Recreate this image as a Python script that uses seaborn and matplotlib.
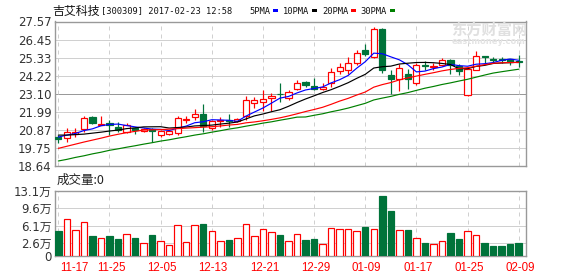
import numpy as np
import pandas as pd
import matplotlib
matplotlib.use("Agg")
import matplotlib.pyplot as plt
import seaborn as sns
from matplotlib.patches import Rectangle
from matplotlib.transforms import ScaledTranslation

# ---------------- data ----------------
tick_pos = [0, 6, 12, 18, 24, 30, 36, 42, 48, 54]
tick_labels = ["11-17", "11-25", "12-05", "12-13", "12-21", "12-29",
               "01-09", "01-17", "01-25", "02-09"]

open_ = [20.44, 20.34, 20.61, 20.90, 21.68, 21.18, 21.31, 21.06, 20.75, 21.00,
         20.81, 20.92, 20.55, 20.61, 20.71, 21.50, 21.68, 21.84, 20.99, 21.44,
         21.50, 21.45, 21.72, 22.54, 22.60, 22.87, 23.12, 22.87, 23.38, 23.83,
         23.57, 23.40, 23.75, 24.51, 24.57, 25.02, 25.80, 25.35, 27.12, 24.26,
         24.00, 24.31, 23.79, 24.88, 24.73, 24.86, 25.21, 24.80, 23.01, 24.60,
         25.41, 25.25, 25.25, 25.23, 25.10]
high = [20.55, 20.96, 21.00, 21.74, 21.72, 21.72, 21.47, 21.33, 21.27, 21.06,
        21.00, 20.96, 20.86, 20.86, 21.72, 21.72, 22.15, 22.46, 21.50, 21.68,
        21.84, 21.62, 22.95, 22.90, 23.32, 23.15, 23.80, 23.32, 23.95, 23.90,
        24.06, 23.75, 24.67, 25.02, 25.37, 25.80, 26.21, 27.26, 27.14, 24.55,
        24.95, 24.66, 25.00, 25.12, 25.00, 25.33, 25.27, 24.96, 24.70, 25.74,
        25.43, 25.39, 25.35, 25.27, 25.52]
low = [20.04, 20.14, 20.41, 20.75, 21.21, 21.16, 20.55, 20.75, 20.65, 20.59,
       20.75, 20.10, 20.41, 20.55, 20.55, 21.30, 21.47, 20.75, 20.85, 21.05,
       21.02, 21.35, 21.50, 22.25, 22.05, 22.05, 22.60, 22.70, 23.34, 23.50,
       23.34, 23.33, 23.55, 24.30, 24.30, 24.88, 25.46, 25.30, 24.40, 23.07,
       23.28, 23.42, 23.63, 24.58, 24.55, 24.80, 24.35, 24.24, 22.98, 24.55,
       24.92, 24.99, 25.00, 24.88, 24.75]
close = [20.30, 20.75, 20.75, 21.61, 21.27, 21.24, 21.17, 20.86, 21.16, 20.86,
         20.90, 20.81, 20.80, 20.80, 21.58, 21.55, 21.84, 21.10, 21.43, 21.50,
         21.45, 21.52, 22.70, 22.70, 22.75, 22.95, 23.08, 23.21, 23.79, 23.67,
         23.40, 23.55, 24.47, 24.78, 24.98, 25.64, 25.55, 27.12, 24.60, 24.02,
         24.72, 24.04, 24.90, 24.84, 24.79, 25.21, 24.86, 24.51, 24.66, 25.41,
         25.37, 25.21, 25.20, 25.06, 25.04]
volume_wan = [5.04, 7.46, 5.24, 6.79, 4.03, 3.63, 4.03, 3.43, 4.37, 3.63,
              2.55, 4.23, 2.96, 2.15, 6.18, 2.76, 6.18, 6.45, 4.97, 2.96,
              3.23, 3.63, 6.38, 3.97, 5.44, 4.77, 4.23, 2.96, 4.37, 3.23,
              3.43, 2.35, 5.58, 5.44, 5.44, 4.97, 5.85, 5.44, 12.1, 9.07,
              5.24, 5.24, 3.63, 2.62, 2.35, 2.96, 4.64, 3.43, 4.97, 4.17,
              2.62, 2.02, 2.02, 2.42, 2.62]

# moving-average values before enough closes are in the window
ma5_head = [20.43, 20.55, 20.65, 20.83]
ma10_head = [20.55, 20.55, 20.58, 20.61, 20.67, 20.73, 20.80, 20.86, 20.95]
ma20_head = [19.73, 19.86, 19.99, 20.12, 20.24, 20.36, 20.49, 20.60, 20.70, 20.78,
             20.86, 20.88, 20.89, 20.92, 20.95, 20.98, 21.01, 21.04, 21.07]
ma30_head = [18.95, 19.05, 19.17, 19.27, 19.39, 19.49, 19.61, 19.70, 19.80, 19.89,
             19.99, 20.08, 20.18, 20.26, 20.36, 20.45, 20.55, 20.63, 20.73, 20.82,
             20.92, 21.00, 21.10, 21.19, 21.29, 21.37, 21.47, 21.56, 21.66]

price_ticks = [18.64, 19.75, 20.87, 21.99, 23.10, 24.22, 25.33, 26.45, 27.57]
price_tick_labels = ["18.64", "19.75", "20.87", "21.99", "23.10", "24.22",
                     "25.33", "26.45", "27.57"]
vol_ticks = [0, 2.6, 6.1, 9.6, 13.1]
vol_tick_labels = ["0", "2.6万", "6.1万", "9.6万", "13.1万"]

ma_names = ["5PMA", "10PMA", "20PMA", "30PMA"]
ma_colors = ["#0000ff", "#000000", "#ff0000", "#008000"]

# ---------------- styling ----------------
sns.set_style("white")
plt.rcParams['font.family'] = ['DejaVu Sans', 'Noto Sans CJK SC']

RED = "#ff0000"
GREEN = "#00733a"
GRID = "#d0d0d0"
FRAME = "#999999"
PX = 0.72  # one pixel in points at dpi 100

W, H = 578, 276
fig = plt.figure(figsize=(W / 100, H / 100), dpi=100)
fig.patch.set_facecolor("white")


def axrect(l, t, r, b):
    return [l / W, 1 - b / H, (r - l) / W, (b - t) / H]


ax = fig.add_axes(axrect(54.5, 21.5, 525.5, 166))
axv = fig.add_axes(axrect(54.5, 191, 525.5, 256))

n = len(close)
idx = np.arange(n)

# moving averages
cs = pd.Series(close)
mas = []
for win, head in zip([5, 10, 20, 30], [ma5_head, ma10_head, ma20_head, ma30_head]):
    m = cs.rolling(win).mean().to_numpy()
    m[:win - 1] = head
    mas.append(m)

# grid in price panel
for t in price_ticks[1:-1]:
    ax.axhline(t, color=(FRAME if abs(t - 23.10) < 1e-6 else GRID), lw=PX, zorder=0)
for t in tick_pos:
    ax.axvline(t, color=GRID, lw=PX, ls=(0, (4, 4)), zorder=0)
    axv.axvline(t, color=GRID, lw=PX, ls=(0, (4, 4)), zorder=0)
for t in vol_ticks[1:-1]:
    axv.axhline(t, color=GRID, lw=PX, zorder=0)

# candles
bw = 0.72
for i in range(n):
    o, h, l, c = open_[i], high[i], low[i], close[i]
    up = c >= o
    col = RED if up else GREEN
    ax.plot([i, i], [l, h], color=col, lw=PX * 1.2, zorder=2, solid_capstyle="butt")
    bottom = min(o, c)
    height = abs(c - o)
    ax.add_patch(Rectangle((i - bw / 2, bottom), bw, height,
                           facecolor=("white" if up else GREEN),
                           edgecolor=col, lw=PX * 1.2, zorder=3))

# MA lines via seaborn
for m, name, col in zip(mas, ma_names, ma_colors):
    sns.lineplot(x=idx, y=m, ax=ax, color=col, lw=0.85, zorder=4, legend=False)

ax.set_xlim(-0.45, n - 0.2)
ax.set_ylim(price_ticks[0], price_ticks[-1])
ax.set_yticks(price_ticks, price_tick_labels)
ax.set_xticks([])
ax.tick_params(axis="y", length=0, pad=2, labelsize=8.5, labelcolor="#333333")

# volume
ups = [c >= o for o, c in zip(open_, close)]
axv.bar(idx, volume_wan, width=0.76,
        color=["white" if u else GREEN for u in ups],
        edgecolor=[RED if u else GREEN for u in ups], lw=PX * 1.2, zorder=3)
axv.set_xlim(-0.45, n - 0.2)
axv.set_ylim(0, 13.1)
axv.set_yticks(vol_ticks, vol_tick_labels)
axv.set_xticks(tick_pos, tick_labels)
axv.tick_params(axis="y", length=0, pad=2, labelsize=8.5, labelcolor="#333333")
axv.tick_params(axis="x", length=0, pad=4, labelsize=8.3, labelcolor=RED)
for k, lab in enumerate(axv.get_xticklabels()):
    lab.set_fontfamily("Liberation Sans")
    dx = 2 if k == 0 else 1.5
    lab.set_transform(lab.get_transform() + ScaledTranslation(dx / 100, 0, fig.dpi_scale_trans))
axv.get_xticklabels()[0].set_horizontalalignment("left")

for a in (ax, axv):
    for s in a.spines.values():
        s.set_color(FRAME)
        s.set_linewidth(1.0)
    a.set_xlabel("")
    a.set_ylabel("")

# header text
fig.text(52 / W, 1 - 11 / H, "吉艾科技", fontfamily=["Noto Sans CJK SC"],
         fontsize=8.6, va="center", ha="left", color="#111111")
fig.text(101 / W, 1 - 11 / H, "[300309] 2017-02-23 12:58",
         fontfamily=["DejaVu Sans Mono"], fontsize=6.3, va="center", ha="left",
         color="#111111")
leg_x = [249, 283, 322, 360]
sq_x = [273, 312, 351, 390]
for name, col, lx, sx in zip(ma_names, ma_colors, leg_x, sq_x):
    fig.text(lx / W, 1 - 11 / H, name, fontfamily=["DejaVu Sans Mono"],
             fontsize=6.3, va="center", ha="left", color="#111111")
    fig.add_artist(Rectangle((sx / W, 1 - 12 / H), 5 / W, 3 / H,
                             facecolor=col, edgecolor="none",
                             transform=fig.transFigure))

fig.text(57 / W, 1 - 180 / H, "成交量:0", fontfamily=["Noto Sans CJK SC", "DejaVu Sans"],
         fontsize=9, va="center", ha="left", color="#222222")

# watermark
fig.text(489 / W, 1 - 30 / H, "东方财富网", fontfamily=["Noto Sans CJK SC"],
         fontsize=11, fontweight="bold", va="center", ha="center",
         color="#e0e0e0", zorder=1)
fig.text(489 / W, 1 - 42 / H, "eastmoney.com", fontfamily=["DejaVu Sans"],
         fontsize=6, fontweight="bold", va="center", ha="center",
         color="#e4e4e4", zorder=1)

fig.savefig("out.png", dpi=100, facecolor="white")
